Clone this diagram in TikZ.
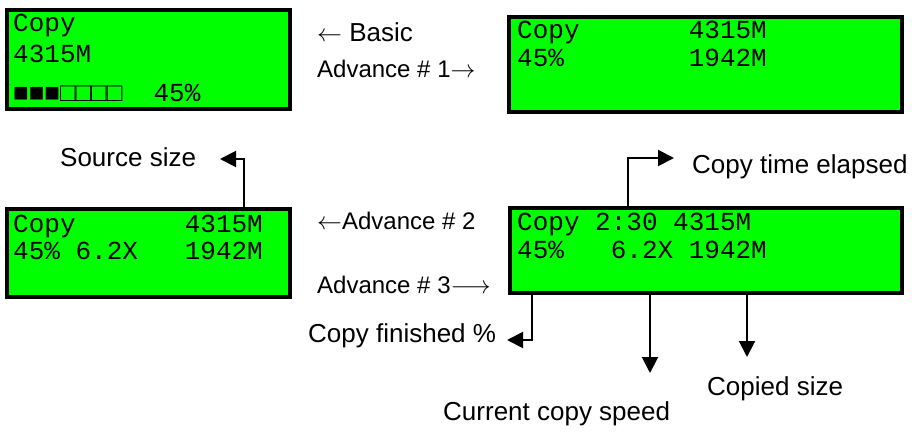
\documentclass[tikz,border=0pt]{standalone}
\usepackage{fontspec}
\setmainfont{Liberation Sans}
\newfontfamily\lcdfont{Liberation Mono}
\usetikzlibrary{arrows.meta, positioning}
\usetikzlibrary{calc}
\definecolor{lcdgreen}{RGB}{0,255,0}

\begin{document}
\begin{tikzpicture}[x=1pt, y=-1pt]
    % Setup the styles for the screens and the notes
        \tikzset{screen/.style={rectangle,
                                anchor=north west,
                                inner sep=0pt,
                                line width=4pt,
                                draw=black,
                                fill=lcdgreen},
                 lcd/.style={font=\lcdfont\fontsize{26}{30}\selectfont,
                             anchor=base west,
                             inner sep=0pt},
                 note/.style={font=\fontsize{26}{30}\selectfont,
                              anchor=base west,
                              inner sep=0pt},
                 mode/.style={note, font=\fontsize{24}{28}\selectfont},
                 pointer/.style={line width=2pt,
                                 -{Triangle[length=16pt, width=16pt]}}}

        \useasboundingbox (0, 0) rectangle (912, 433);

        % Draw the screens
        \node[screen, minimum width=283, minimum height=99] at (5, 8)    (basic) {};
        \node[screen, minimum width=393, minimum height=95] at (507, 15)  (adv1)  {};
        \node[screen, minimum width=283, minimum height=88] at (5, 207)   (adv2)  {};
        \node[screen, minimum width=392, minimum height=85] at (508, 206) (adv3)  {};

        % Screen contents
        \node[lcd] at (13, 32)   (basic1) {Copy};
        \node[lcd] at (13, 63)   (basic2) {4315M};
        \node[lcd] at (13, 102)  (basic3) {■■■□□□□~~45\%};
        \node[lcd] at (517, 39)  (adv11)  {Copy~~~~~~~4315M};
        \node[lcd] at (517, 67)  (adv12)  {45\%~~~~~~~~1942M};
        \node[lcd] at (13, 232)  (adv21)  {Copy~~~~~~~4315M};
        \node[lcd] at (13, 259)  (adv22)  {45\%~6.2X~~~1942M};
        \node[lcd] at (517, 230) (adv31)  {Copy~2:30~4315M};
        \node[lcd] at (517, 258) (adv32)  {45\%~~~6.2X~1942M};

        % Mode names
        \node[note] at (317, 42)  (mbasic) {$\leftarrow$ Basic};
        \node[mode] at (317, 78)  (madv1)  {Advance \# 1$\rightarrow$};
        \node[mode] at (317, 229) (madv2)  {$\leftarrow$Advance \# 2};
        \node[mode] at (317, 293) (madv3)  {Advance \# 3$\longrightarrow$};

        % Field notes
        \node[note] at (60, 166)  (srcsize)  {Source size};
        \node[note] at (692, 173) (elapsed)  {Copy time elapsed};
        \node[note] at (308, 342) (finished) {Copy finished \%};
        \node[note] at (443, 420) (speed)    {Current copy speed};
        \node[note] at (707, 395) (copied)   {Copied size};

        \coordinate (srctip)      at (220, 159);
        \coordinate (elapsedtip)  at (674, 158);
        \coordinate (finishedtip) at (507, 340);
        \coordinate (speedtip)    at (650, 373);
        \coordinate (copiedtip)   at (747, 357);

        % Connect the fields with their notes
        \draw[pointer] ([xshift=239pt]adv2.north west) |- (srctip);
        \draw[pointer] ([xshift=120pt]adv3.north west) |- (elapsedtip);
        \draw[pointer] ([xshift=24pt]adv3.south west)  |- (finishedtip);
        \draw[pointer] (speedtip |- adv3.south)  -- (speedtip);
        \draw[pointer] (copiedtip |- adv3.south) -- (copiedtip);
\end{tikzpicture}
\end{document}
